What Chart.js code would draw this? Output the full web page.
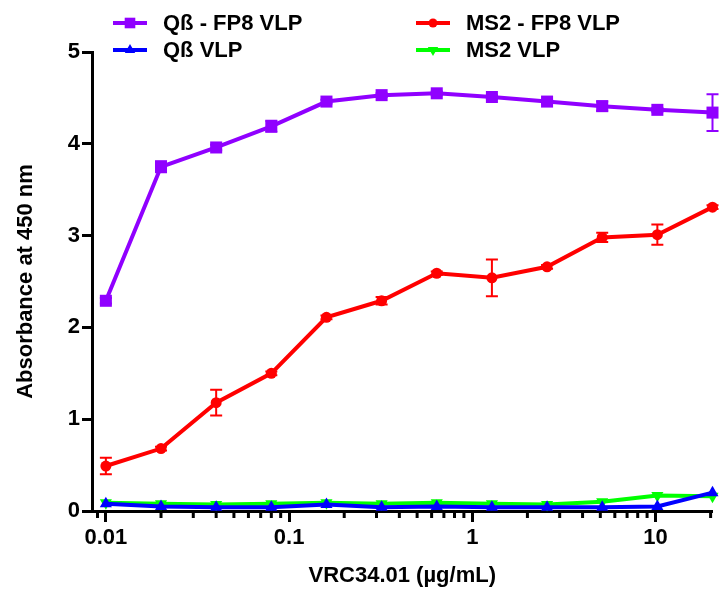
<!DOCTYPE html>
<html>
<head>
<meta charset="utf-8">
<script src="https://cdn.jsdelivr.net/npm/chart.js@4.4.1/dist/chart.umd.min.js"></script>
<style>
  body { margin: 0; background: #fff; }
  #wrap { width: 721px; height: 589px; }
</style>
</head>
<body>
<div id="wrap"><canvas id="absChart" width="721" height="589"></canvas></div>
<script>
// antibody concentrations (doubling dilution)
const concentrations = [0.01, 0.02, 0.04, 0.08, 0.16, 0.32, 0.64, 1.28, 2.56, 5.12, 10.24, 20.48];

const qbFp8 = [2.29, 3.75, 3.96, 4.19, 4.46, 4.53, 4.55, 4.51, 4.46, 4.41, 4.37, 4.34];
const qbFp8Err = [0.03, 0.06, 0.03, 0.06, 0.02, 0.02, 0.02, 0.02, 0.02, 0.05, 0.02, 0.2];
const ms2Fp8 = [0.49, 0.68, 1.18, 1.50, 2.11, 2.29, 2.59, 2.54, 2.66, 2.98, 3.01, 3.31];
const ms2Fp8Err = [0.09, 0.02, 0.14, 0.02, 0.02, 0.04, 0.02, 0.2, 0.02, 0.05, 0.11, 0.02];
const qbVlp = [0.08, 0.05, 0.04, 0.04, 0.07, 0.04, 0.05, 0.04, 0.04, 0.04, 0.05, 0.20];
const ms2Vlp = [0.09, 0.08, 0.07, 0.08, 0.09, 0.08, 0.09, 0.08, 0.07, 0.10, 0.17, 0.16];

const seriesLabels = ['Q\u00df - FP8 VLP', 'MS2 - FP8 VLP', 'Q\u00df VLP', 'MS2 VLP'];
const xTickLabels = [0.01, 0.1, 1, 10];

const FONT = '"Liberation Sans", Arial, sans-serif';

function toPoints(ys) {
    return concentrations.map((x, i) => ({ x: x, y: ys[i] }));
}

function isMajorX(v) {
    return xTickLabels.some(t => Math.abs(t - v) / t < 1e-6);
}

function drawMarker(ctx, style, r, rot, x, y, color) {
    ctx.save();
    ctx.fillStyle = color;
    ctx.beginPath();
    if (style === 'rect') {
        const s = Math.SQRT1_2 * r;
        ctx.rect(x - s, y - s, 2 * s, 2 * s);
    } else if (style === 'triangle') {
        let a = rot * Math.PI / 180;
        ctx.moveTo(x + Math.sin(a) * r, y - Math.cos(a) * r);
        a += 2 * Math.PI / 3;
        ctx.lineTo(x + Math.sin(a) * r, y - Math.cos(a) * r);
        a += 2 * Math.PI / 3;
        ctx.lineTo(x + Math.sin(a) * r, y - Math.cos(a) * r);
        ctx.closePath();
    } else {
        ctx.arc(x, y, r, 0, Math.PI * 2);
    }
    ctx.fill();
    ctx.restore();
}

// error bars from the dataset's errors array
const errorBars = {
    id: 'errorBars',
    afterDatasetsDraw(chart) {
        const ctx = chart.ctx;
        const yScale = chart.scales.y;
        chart.data.datasets.forEach((ds, i) => {
            if (!ds.errors) return;
            const meta = chart.getDatasetMeta(i);
            ctx.save();
            ctx.strokeStyle = ds.borderColor;
            ctx.lineWidth = 2;
            meta.data.forEach((pt, j) => {
                const e = ds.errors[j];
                if (!e) return;
                const v = ds.data[j].y;
                const top = yScale.getPixelForValue(v + e);
                const bot = yScale.getPixelForValue(v - e);
                ctx.beginPath();
                ctx.moveTo(pt.x, top); ctx.lineTo(pt.x, bot);
                ctx.moveTo(pt.x - 6, top); ctx.lineTo(pt.x + 6, top);
                ctx.moveTo(pt.x - 6, bot); ctx.lineTo(pt.x + 6, bot);
                ctx.stroke();
            });
            ctx.restore();
        });
    }
};

// short minor ticks on the log axis
const minorTicks = {
    id: 'minorTicks',
    afterDraw(chart) {
        const xs = chart.scales.x;
        const ctx = chart.ctx;
        ctx.save();
        ctx.strokeStyle = '#000';
        ctx.lineWidth = 3;
        xs.ticks.forEach(t => {
            if (isMajorX(t.value)) return;
            const px = xs.getPixelForValue(t.value);
            ctx.beginPath();
            ctx.moveTo(px, xs.top);
            ctx.lineTo(px, xs.top + 7);
            ctx.stroke();
        });
        ctx.restore();
    }
};

// two-column legend above the plot
const gridLegend = {
    id: 'gridLegend',
    afterDraw(chart, args, opts) {
        const ctx = chart.ctx;
        ctx.save();
        ctx.font = 'bold 22px ' + FONT;
        ctx.textBaseline = 'middle';
        opts.items.forEach((it, i) => {
            const ds = chart.data.datasets[i];
            ctx.strokeStyle = ds.borderColor;
            ctx.lineWidth = 4;
            ctx.beginPath();
            ctx.moveTo(it.x, it.y);
            ctx.lineTo(it.x + 34, it.y);
            ctx.stroke();
            drawMarker(ctx, ds.pointStyle, ds.pointRadius - 1, ds.pointRotation || 0, it.x + 17, it.y, ds.borderColor);
            ctx.fillStyle = '#000';
            ctx.fillText(ds.label, it.x + 50, it.y + 1);
        });
        ctx.restore();
    }
};

document.addEventListener('DOMContentLoaded', function() {
    Chart.defaults.font.family = FONT;
    Chart.defaults.font.weight = 'bold';
    Chart.defaults.font.size = 22;
    Chart.defaults.color = '#000';

    const base = { borderWidth: 4, tension: 0, clip: false, pointBorderWidth: 0 };

    const datasets = [
        Object.assign({}, base, {
            label: seriesLabels[0], data: toPoints(qbFp8), errors: qbFp8Err,
            borderColor: '#9000ff', backgroundColor: '#9000ff',
            pointStyle: 'rect', pointRadius: 8.5
        }),
        Object.assign({}, base, {
            label: seriesLabels[1], data: toPoints(ms2Fp8), errors: ms2Fp8Err,
            borderColor: '#ff0000', backgroundColor: '#ff0000',
            pointStyle: 'circle', pointRadius: 5.5
        }),
        Object.assign({}, base, {
            label: seriesLabels[2], data: toPoints(qbVlp),
            borderColor: '#0000ff', backgroundColor: '#0000ff',
            pointStyle: 'triangle', pointRadius: 7
        }),
        Object.assign({}, base, {
            label: seriesLabels[3], data: toPoints(ms2Vlp),
            borderColor: '#00ff00', backgroundColor: '#00ff00',
            pointStyle: 'triangle', pointRotation: 180, pointRadius: 7
        })
    ];

    new Chart(document.getElementById('absChart'), {
        type: 'line',
        data: { datasets: datasets },
        plugins: [errorBars, minorTicks, gridLegend],
        options: {
            responsive: false,
            animation: false,
            layout: { padding: { top: 52, right: 6, left: 0, bottom: 0 } },
            plugins: {
                legend: { display: false },
                tooltip: { enabled: false },
                gridLegend: {
                    items: [
                        { x: 113, y: 23 },
                        { x: 416, y: 23 },
                        { x: 113, y: 50 },
                        { x: 416, y: 50 }
                    ]
                }
            },
            scales: {
                x: {
                    type: 'logarithmic',
                    min: 0.0084,
                    max: 20.48,
                    border: { color: '#000', width: 3 },
                    grid: {
                        drawOnChartArea: false,
                        tickLength: 11,
                        tickWidth: 3,
                        tickColor: ctx => (ctx.tick && isMajorX(ctx.tick.value)) ? '#000' : 'rgba(0,0,0,0)'
                    },
                    afterBuildTicks: scale => {
                        scale.ticks = scale.ticks.filter(t => {
                            const e = Math.floor(Math.log10(t.value) + 1e-9);
                            const s = t.value / Math.pow(10, e);
                            return Math.abs(s - Math.round(s)) < 1e-6;
                        });
                    },
                    ticks: {
                        autoSkip: false,
                        maxRotation: 0,
                        padding: 3,
                        callback: v => isMajorX(v) ? String(xTickLabels.find(t => Math.abs(t - v) / t < 1e-6)) : ''
                    },
                    title: {
                        display: true,
                        text: 'VRC34.01 (\u00b5g/mL)',
                        padding: { top: 0, bottom: 0 }
                    },
                    afterFit: scale => { scale.height = 78; }
                },
                y: {
                    min: 0,
                    max: 5,
                    border: { color: '#000', width: 3 },
                    grid: {
                        drawOnChartArea: false,
                        tickLength: 10,
                        tickWidth: 3,
                        tickColor: '#000'
                    },
                    ticks: { stepSize: 1, padding: 2 },
                    title: {
                        display: true,
                        text: 'Absorbance at 450 nm',
                        padding: { top: 13, bottom: 0 }
                    },
                    afterFit: scale => { scale.width = 92; }
                }
            }
        }
    });
});
</script>
</body>
</html>
